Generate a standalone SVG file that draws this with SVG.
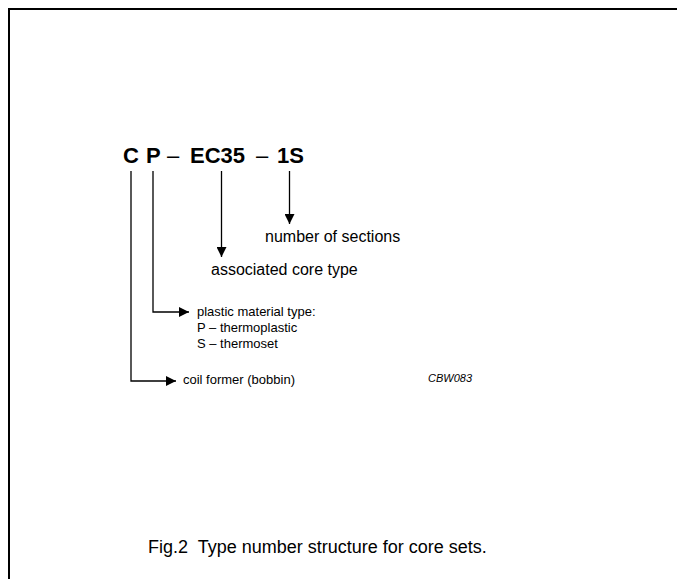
<svg xmlns="http://www.w3.org/2000/svg" width="677" height="579" viewBox="0 0 677 579">
<style>
  text { font-family: "Liberation Sans", Arial, sans-serif; fill: #000; }
  .title { font-size: 22px; font-weight: bold; }
  .dash { font-size: 22px; font-weight: normal; }
  .lbl { font-size: 16px; }
  .lbl2 { font-size: 13px; }
  .code { font-size: 11px; font-style: italic; }
  .cap { font-size: 18px; white-space: pre; }
  .conn { fill: none; stroke: #000; stroke-width: 1.3; }
  .frame { fill: none; stroke: #000; stroke-width: 2; }
</style>
<defs>
  <marker id="ah" viewBox="0 0 10 10" refX="10" refY="5" markerWidth="10" markerHeight="10" markerUnits="userSpaceOnUse" orient="auto">
    <path d="M0,0 L10,5 L0,10 Z" fill="#000"/>
  </marker>
</defs>
<rect width="677" height="579" fill="#fff"/>
<path class="frame" d="M9,579 V9 H677"/>
<g id="typenumber">
  <text class="title" x="123" y="163">C</text>
  <text class="title" x="146" y="163">P</text>
  <text class="dash" x="167" y="163">–</text>
  <text class="title" x="190" y="163">EC35</text>
  <text class="dash" x="256" y="163">–</text>
  <text class="title" x="277" y="163">1S</text>
</g>
<g id="connectors">
  <path class="conn" d="M131,171 V381 H176" marker-end="url(#ah)"/>
  <path class="conn" d="M153,171 V312 H189" marker-end="url(#ah)"/>
  <path class="conn" d="M221.5,171 V257" marker-end="url(#ah)"/>
  <path class="conn" d="M289.5,171 V224" marker-end="url(#ah)"/>
</g>
<g id="sections"><text class="lbl" x="265" y="242">number of sections</text></g>
<g id="core"><text class="lbl" x="211" y="275">associated core type</text></g>
<g id="material">
  <text class="lbl2" x="197" y="316">plastic material type:</text>
  <text class="lbl2" x="197" y="332">P – thermoplastic</text>
  <text class="lbl2" x="197" y="348">S – thermoset</text>
</g>
<g id="former"><text class="lbl2" x="183" y="384">coil former (bobbin)</text></g>
<text class="code" x="428" y="382">CBW083</text>
<text class="cap" x="148" y="553" xml:space="preserve">Fig.2  Type number structure for core sets.</text>
</svg>
